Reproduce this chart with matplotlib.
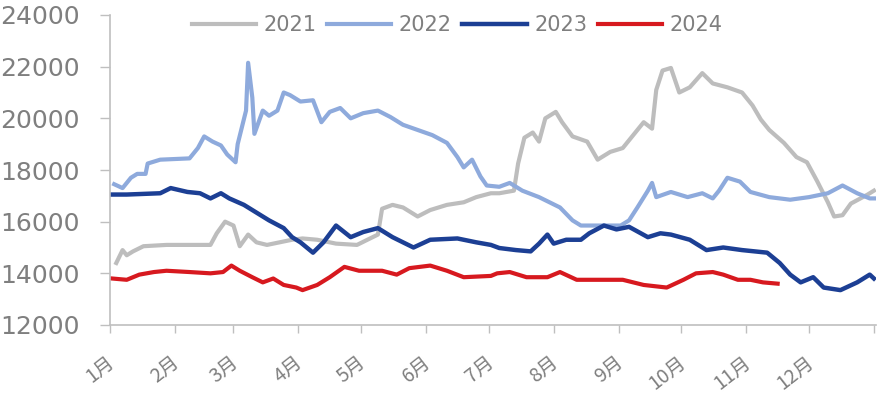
import matplotlib
matplotlib.use("Agg")
import matplotlib.pyplot as plt
from matplotlib.transforms import offset_copy

plt.rcParams["font.family"] = ["DejaVu Sans"]

days_2021 = [3, 6, 8, 11, 16, 27, 48, 51, 55, 59, 62, 66, 70, 75, 81, 87, 92, 99, 108, 118,
             128, 130, 135, 140, 147, 153, 161, 169, 175, 182, 186, 193, 195, 198, 202, 205,
             208, 213, 216, 221, 228, 233, 239, 245, 250, 255, 259, 261, 264, 268, 272, 277,
             283, 288, 295, 302, 307, 311, 315, 322, 328, 333, 338, 343, 346, 350, 354, 362, 365]
vals_2021 = [14400, 14900, 14700, 14850, 15050, 15100, 15100, 15550, 16000, 15850, 15050,
             15500, 15200, 15100, 15200, 15300, 15350, 15300, 15150, 15100, 15500, 16500,
             16650, 16550, 16200, 16450, 16650, 16750, 16950, 17100, 17100, 17200, 18250,
             19250, 19450, 19100, 20000, 20250, 19850, 19300, 19100, 18400, 18700, 18850,
             19350, 19850, 19600, 21100, 21850, 21950, 21000, 21200, 21750, 21350, 21200,
             21000, 20500, 19950, 19550, 19050, 18500, 18300, 17550, 16750, 16200, 16250,
             16700, 17050, 17200]

days_2022 = [2, 6, 10, 13, 17, 18, 24, 38, 42, 45, 49, 53, 56, 60, 61, 65, 66, 68, 69, 73,
             76, 80, 83, 86, 91, 97, 101, 105, 110, 115, 121, 128, 134, 140, 147, 154, 161,
             166, 169, 173, 177, 180, 186, 191, 197, 205, 215, 221, 225, 233, 244, 248, 252,
             257, 259, 261, 268, 276, 283, 288, 291, 295, 301, 306, 315, 325, 334, 343, 350,
             357, 363, 365]
vals_2022 = [17450, 17300, 17700, 17850, 17850, 18250, 18400, 18450, 18850, 19300, 19100,
             18950, 18600, 18300, 19000, 20300, 22150, 20800, 19400, 20300, 20100, 20300,
             21000, 20900, 20650, 20700, 19850, 20250, 20400, 20000, 20200, 20300, 20050,
             19750, 19550, 19350, 19050, 18500, 18100, 18400, 17750, 17400, 17350, 17500,
             17200, 16950, 16550, 16050, 15850, 15850, 15850, 16050, 16550, 17200, 17500,
             16950, 17150, 16950, 17100, 16900, 17200, 17700, 17550, 17150, 16950, 16850,
             16950, 17100, 17400, 17100, 16900, 16900]

days_2023 = [1, 8, 24, 29, 37, 43, 48, 53, 57, 64, 70, 76, 83, 87, 91, 97, 102, 108, 115,
             121, 128, 135, 145, 153, 166, 175, 182, 186, 194, 201, 205, 209, 212, 218, 225,
             229, 236, 242, 248, 257, 263, 268, 277, 285, 293, 302, 314, 320, 325, 330, 336,
             341, 349, 357, 363, 365]
vals_2023 = [17050, 17050, 17100, 17300, 17150, 17100, 16900, 17100, 16900, 16650, 16350,
             16050, 15750, 15400, 15200, 14800, 15200, 15850, 15400, 15600, 15750, 15400,
             15000, 15300, 15350, 15200, 15100, 14980, 14900, 14850, 15150, 15500, 15150,
             15300, 15300, 15550, 15850, 15700, 15800, 15400, 15550, 15500, 15300, 14900,
             15000, 14900, 14800, 14400, 13950, 13650, 13850, 13450, 13350, 13650, 13950, 13800]

days_2024 = [1, 8, 14, 21, 27, 38, 48, 54, 58, 62, 68, 73, 78, 83, 89, 92, 99, 105, 112,
             119, 130, 137, 143, 153, 161, 169, 182, 185, 191, 199, 209, 215, 223, 234, 245,
             255, 266, 274, 280, 288, 293, 300, 306, 312, 319]
vals_2024 = [13800, 13750, 13950, 14050, 14100, 14050, 14000, 14050, 14300, 14100, 13850,
             13650, 13800, 13550, 13450, 13350, 13550, 13850, 14250, 14100, 14100, 13950,
             14200, 14300, 14100, 13850, 13900, 14000, 14050, 13850, 13850, 14050, 13750,
             13750, 13750, 13550, 13450, 13750, 14000, 14050, 13950, 13750, 13750, 13650, 13600]

month_days = [0, 31, 59, 90, 120, 151, 181, 212, 243, 273, 304, 334, 365]
month_labels = ["1月", "2月", "3月", "4月", "5月", "6月", "7月", "8月", "9月",
                "10月", "11月", "12月", ""]

series = [
    ("2021", days_2021, vals_2021, "#bdbdbd", 3.0),
    ("2022", days_2022, vals_2022, "#8eaadc", 3.0),
    ("2023", days_2023, vals_2023, "#1c3f94", 3.2),
    ("2024", days_2024, vals_2024, "#d7191f", 3.0),
]

text_gray = "#7f7f7f"
axis_gray = "#bfbfbf"

fig = plt.figure(figsize=(8.92, 3.94), dpi=100)
ax = fig.add_axes([110 / 892, 1 - 325 / 394, 766 / 892, 310 / 394])

for name, xs, ys, clr, lw in series:
    ax.plot(xs, ys, color=clr, linewidth=lw, label=name, solid_joinstyle="round")

ax.set_xlim(0, 366)
ax.set_ylim(12000, 24000)
ax.set_yticks(range(12000, 24001, 2000))
ax.tick_params(axis="y", labelsize=18, labelcolor=text_gray, length=7, width=1,
               color=axis_gray, pad=15)
ax.set_xticks(month_days)
ax.tick_params(axis="x", labelbottom=False, length=6, width=1, color=axis_gray)

# month labels, rotated, hanging below-left of each tick
lbl_trans = offset_copy(ax.get_xaxis_transform(), fig=fig, x=-4, y=-27, units="dots")
for d, lab in zip(month_days, month_labels):
    ax.text(d, 0, lab, transform=lbl_trans, rotation=38, rotation_mode="anchor",
            ha="right", va="top", fontsize=14, color=text_gray,
            family=["Noto Sans CJK SC", "DejaVu Sans"], clip_on=False)

for side in ["top", "right"]:
    ax.spines[side].set_visible(False)
for side in ["left", "bottom"]:
    ax.spines[side].set_color(axis_gray)
    ax.spines[side].set_linewidth(1.2)

leg = fig.legend(loc="center", bbox_to_anchor=(457 / 892, 1 - 25 / 394), ncol=4,
                 frameon=False, fontsize=15, handlelength=3.1, handletextpad=0.35,
                 columnspacing=0.5, borderaxespad=0)
for t in leg.get_texts():
    t.set_color(text_gray)

fig.savefig("out.png", dpi=100)
